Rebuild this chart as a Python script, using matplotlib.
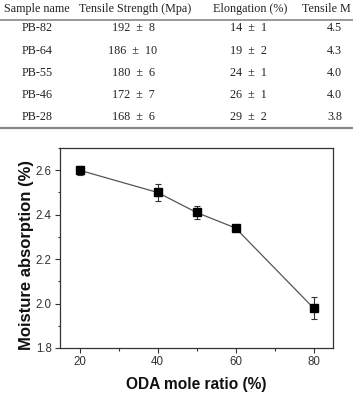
import matplotlib.pyplot as plt
from matplotlib.ticker import MultipleLocator

# table data
samples = ['PB-82', 'PB-64', 'PB-55', 'PB-46', 'PB-28']
strength = [192, 186, 180, 172, 168]
strength_err = [8, 10, 6, 7, 6]
elongation = [14, 19, 24, 26, 29]
elongation_err = [1, 2, 1, 1, 2]
modulus = [4.5, 4.3, 4.0, 4.0, 3.8]
headers = ['Sample name', 'Tensile Strength (Mpa)', 'Elongation (%)', 'Tensile M']

# chart data
oda = [20, 40, 50, 60, 80]
moisture = [2.60, 2.50, 2.41, 2.34, 1.98]
moisture_err = [0.02, 0.04, 0.03, 0.015, 0.05]

W, H = 353, 395
fig = plt.figure(figsize=(W / 100, H / 100), dpi=100)


def px(x, y):
    # pixel coords (from top-left) -> figure fraction
    return x / W, 1 - y / H


serif = 'Liberation Serif'
tsize = 8.7
tcol = '#222222'

# header
hx = [37, 135, 250]
for x, h in zip(hx, headers[:3]):
    fig.text(*px(x, 9), h, ha='center', va='center', family=serif, fontsize=tsize, color=tcol)
fig.text(*px(351, 9), headers[3], ha='right', va='center', family=serif, fontsize=tsize, color=tcol)

row_y = [28, 51, 73, 95, 117]
for i, y in enumerate(row_y):
    fig.text(*px(37, y), samples[i], ha='center', va='center', family=serif, fontsize=tsize, color=tcol)
    fig.text(*px(133, y), f'{strength[i]}  ±  {strength_err[i]}', ha='center', va='center',
             family=serif, fontsize=tsize, color=tcol)
    fig.text(*px(248, y), f'{elongation[i]}  ±  {elongation_err[i]}', ha='center', va='center',
             family=serif, fontsize=tsize, color=tcol)
    fig.text(*px(327, y), f'{modulus[i]:.1f}', ha='left', va='center', family=serif,
             fontsize=tsize, color=tcol)

# table rules
for y, lw in [(19.5, 1.2), (127.5, 1.6)]:
    fig.add_artist(plt.Line2D([0, 1], [1 - y / H] * 2, color='#888888', lw=lw,
                              transform=fig.transFigure))

# moisture chart
ax = fig.add_axes([60 / W, (H - 348) / H, 273 / W, 200 / H])
ax.errorbar(oda, moisture, yerr=moisture_err, color='#555555', lw=0.9,
            marker='s', markersize=6, mfc='black', mec='black',
            ecolor='#333333', elinewidth=0.8, capsize=2.5, capthick=0.8)
ax.set_xlim(15, 85)
ax.set_ylim(1.8, 2.7)
ax.set_xticks([20, 40, 60, 80])
ax.set_yticks([1.8, 2.0, 2.2, 2.4, 2.6])
ax.xaxis.set_minor_locator(MultipleLocator(10))
ax.yaxis.set_minor_locator(MultipleLocator(0.1))
ax.tick_params(which='major', direction='out', length=3.5, width=0.8, labelsize=8.3,
               pad=2.5, labelcolor='#333333', color='#333333')
ax.tick_params(which='minor', direction='out', length=1.8, width=0.8, color='#333333')
for lab in ax.get_xticklabels() + ax.get_yticklabels():
    lab.set_family('Liberation Sans')
for s in ax.spines.values():
    s.set_linewidth(0.9)
    s.set_color('#333333')

ax.set_xlabel('ODA mole ratio (%)', family='Liberation Sans', fontweight='bold',
              fontsize=11.2, labelpad=6, color='#111111')
ax.set_ylabel('Moisture absorption (%)', family='Liberation Sans', fontweight='bold',
              fontsize=12, labelpad=1.5, color='#111111')
ax.yaxis.label.set_y(0.465)

fig.savefig('out.png', dpi=100)
